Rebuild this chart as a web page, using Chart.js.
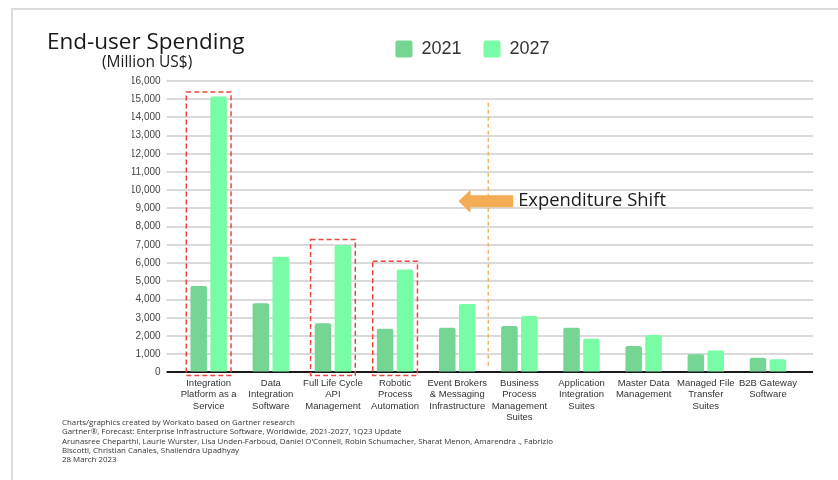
<!DOCTYPE html>
<html>
<head>
<meta charset="utf-8">
<script src="https://cdn.jsdelivr.net/npm/chart.js@4.4.0/dist/chart.umd.min.js"></script>
<style>
  html, body { margin: 0; padding: 0; background: #fff; overflow: hidden; }
  #wrap { position: relative; width: 838px; height: 480px; overflow: hidden; }
  #frame { position: absolute; left: 11px; top: 8px; width: 900px; height: 600px; border: 2px solid #dcdcdc; }
  #chart { position: absolute; left: 0; top: 0; }
  .txt { position: absolute; white-space: nowrap; color: #1a1a1a; font-family: "Open Sans", sans-serif; }
  #title { left: 47px; top: 25px; font-size: 22.5px; }
  #unit { left: 102px; top: 50px; font-size: 15.5px; }
  #notes { left: 62px; top: 418px; font-size: 7.9px; line-height: 9.3px; color: #333; }
</style>
</head>
<body>
<div id="wrap">
  <div id="frame"></div>
  <canvas id="chart" width="838" height="480"></canvas>
  <div class="txt" id="title">End-user Spending</div>
  <div class="txt" id="unit">(Million US$)</div>
  <div class="txt" id="notes">
    Charts/graphics created by Workato based on Gartner research<br>
    Gartner®, Forecast: Enterprise Infrastructure Software, Worldwide, 2021-2027, 1Q23 Update<br>
    Arunasree Cheparthi, Laurie Wurster, Lisa Unden-Farboud, Daniel O'Connell, Robin Schumacher, Sharat Menon, Amarendra ., Fabrizio<br>
    Biscotti, Christian Canales, Shailendra Upadhyay<br>
    28 March 2023
  </div>
</div>
<script>
// categories (multi-line tick labels)
const categories = [
  ['Integration', 'Platform as a', 'Service'],
  ['Data', 'Integration', 'Software'],
  ['Full Life Cycle', 'API', 'Management'],
  ['Robotic', 'Process', 'Automation'],
  ['Event Brokers', '& Messaging', 'Infrastructure'],
  ['Business', 'Process', 'Management', 'Suites'],
  ['Application', 'Integration', 'Suites'],
  ['Master Data', 'Management'],
  ['Managed File', 'Transfer', 'Suites'],
  ['B2B Gateway', 'Software']
];
// end-user spending, million US$
const spend2021 = [4750, 3800, 2700, 2400, 2450, 2550, 2450, 1450, 1000, 800];
const spend2027 = [15150, 6350, 7000, 5650, 3750, 3100, 1850, 2050, 1200, 720];

// annotations (category index / value units)
const highlightIdx = [0, 2, 3];
const highlightTop = [15400, 7300, 6100];
const shiftLineAt = 4.5;
const shiftLineRange = [200, 14800];
const arrowLevel = 9400;
const arrowFrom = 4.9, arrowTo = 4.02;
const arrowLabel = 'Expenditure Shift';

const gridColor = function(ctx) {
  return ctx.tick && ctx.tick.value === 0 ? '#1a1a1a' : '#dadada';
};

const annotations = {
  id: 'annotations',
  afterDatasetsDraw(chart) {
    const ctx = chart.ctx;
    const x = chart.scales.x, y = chart.scales.y;
    const half = 0.36;
    ctx.save();
    // red dashed boxes
    ctx.strokeStyle = '#f0453f';
    ctx.lineWidth = 1.5;
    ctx.setLineDash([5, 3]);
    highlightIdx.forEach(function(idx, i) {
      const l = x.getPixelForValue(idx - half), r = x.getPixelForValue(idx + half);
      const t = y.getPixelForValue(highlightTop[i]), b = y.getPixelForValue(-170);
      ctx.strokeRect(l, t, r - l, b - t);
    });
    // orange dashed divider
    ctx.strokeStyle = '#f5b464';
    ctx.setLineDash([4, 3]);
    const lx = x.getPixelForValue(shiftLineAt);
    ctx.beginPath();
    ctx.moveTo(lx, y.getPixelForValue(shiftLineRange[1]));
    ctx.lineTo(lx, y.getPixelForValue(shiftLineRange[0]));
    ctx.stroke();
    // arrow
    ctx.setLineDash([]);
    const ay = y.getPixelForValue(arrowLevel);
    const x0 = x.getPixelForValue(arrowFrom), x1 = x.getPixelForValue(arrowTo);
    const head = 12;
    ctx.fillStyle = '#f4ad55';
    ctx.beginPath();
    ctx.moveTo(x0, ay - 6);
    ctx.lineTo(x1 + head, ay - 6);
    ctx.lineTo(x1 + head, ay - 11.5);
    ctx.lineTo(x1, ay);
    ctx.lineTo(x1 + head, ay + 11.5);
    ctx.lineTo(x1 + head, ay + 6);
    ctx.lineTo(x0, ay + 6);
    ctx.closePath();
    ctx.fill();
    ctx.fillStyle = '#1a1a1a';
    ctx.font = '18.4px "Open Sans", sans-serif';
    ctx.textBaseline = 'middle';
    ctx.fillText(arrowLabel, x0 + 5, ay);
    ctx.restore();
  }
};

new Chart(document.getElementById('chart').getContext('2d'), {
  type: 'bar',
  data: {
    labels: categories,
    datasets: [{
      label: '2021',
      data: spend2021,
      backgroundColor: '#75d693',
      borderRadius: 2,
      borderSkipped: 'bottom'
    }, {
      label: '2027',
      data: spend2027,
      backgroundColor: '#78fca6',
      borderRadius: 2,
      borderSkipped: 'bottom'
    }]
  },
  options: {
    responsive: false,
    animation: false,
    layout: {
      padding: { top: 18, left: 132, right: 25, bottom: 52 }
    },
    datasets: {
      bar: { categoryPercentage: 0.64, barPercentage: 0.83 }
    },
    plugins: {
      legend: {
        position: 'top',
        labels: {
          boxWidth: 17,
          boxHeight: 17,
          padding: 22,
          useBorderRadius: true,
          borderRadius: 2,
          color: '#333',
          font: { family: 'Liberation Sans, Arial, sans-serif', size: 18 }
        }
      },
      tooltip: { enabled: false }
    },
    scales: {
      spacer: {
        type: 'category',
        position: 'top',
        grid: { display: false },
        border: { display: false },
        ticks: { display: false },
        afterFit: function(scale) { scale.height = 13; }
      },
      x: {
        grid: { display: false, drawTicks: false },
        border: { display: false },
        ticks: {
          autoSkip: false,
          maxRotation: 0,
          padding: 5,
          color: '#333',
          font: { family: 'Liberation Sans, Arial, sans-serif', size: 9.5, lineHeight: 1.2 }
        }
      },
      y: {
        min: 0,
        max: 16000,
        border: { display: false },
        grid: { color: gridColor, lineWidth: 2, tickLength: 11 },
        ticks: {
          stepSize: 1000,
          padding: 6,
          color: '#444',
          font: { family: 'Liberation Sans, Arial, sans-serif', size: 10 }
        },
        afterFit: function(scale) { scale.width -= 8; }
      },
      y2: {
        position: 'right',
        min: 0,
        max: 16000,
        border: { display: false },
        grid: { color: gridColor, lineWidth: 2, tickLength: 14, drawOnChartArea: false },
        ticks: { stepSize: 1000, display: false }
      }
    }
  },
  plugins: [annotations]
});
</script>
</body>
</html>
